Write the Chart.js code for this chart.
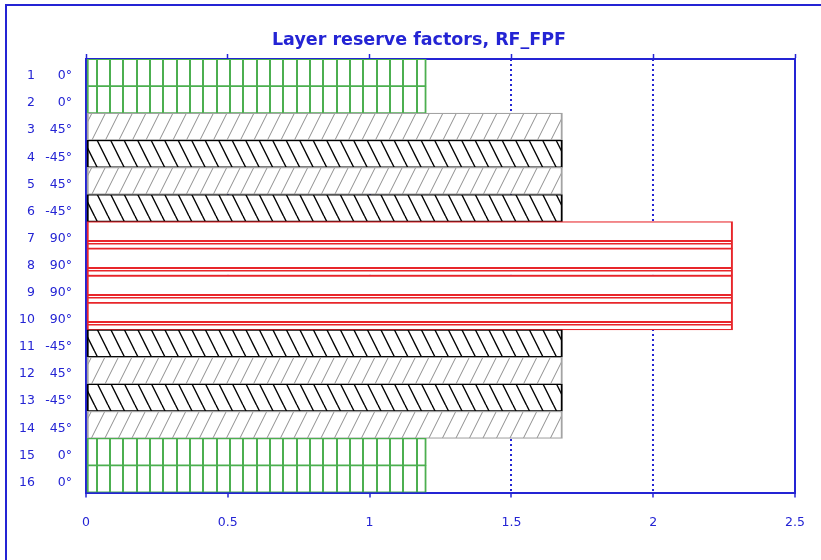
<!DOCTYPE html>
<html>
<head>
<meta charset="utf-8">
<script src="https://cdn.jsdelivr.net/npm/chart.js@4/dist/chart.umd.min.js"></script>
<style>
  html, body { margin: 0; padding: 0; background: #fff; }
  #wrap { width: 821px; height: 560px; }
</style>
</head>
<body>
<div id="wrap"><canvas id="rf" width="821" height="560"></canvas></div>
<script>
// Laminate layers (top to bottom), ply angles and first-ply-failure reserve factors
const chartTitle = 'Layer reserve factors, RF_FPF';
const layers = [1, 2, 3, 4, 5, 6, 7, 8, 9, 10, 11, 12, 13, 14, 15, 16];
const angles = [0, 0, 45, -45, 45, -45, 90, 90, 90, 90, -45, 45, -45, 45, 0, 0];
const reserveFactors = [1.2, 1.2, 1.68, 1.68, 1.68, 1.68, 2.28, 2.28, 2.28, 2.28, 1.68, 1.68, 1.68, 1.68, 1.2, 1.2];
const xTicks = [0, 0.5, 1, 1.5, 2, 2.5];

const BLUE = '#2424d4';
const FONT = "'DejaVu Sans', Verdana, sans-serif";

// Small repeating tiles used as hatch fills for each ply orientation
function tile(w, h, paint) {
  const c = document.createElement('canvas');
  c.width = w; c.height = h;
  const g = c.getContext('2d');
  g.fillStyle = '#fff';
  g.fillRect(0, 0, w, h);
  paint(g);
  return g.createPattern(c, 'repeat');
}

const plyStyle = {
  '0': {
    fill: tile(40, 4, g => {
      g.fillStyle = '#4caf50';
      [2, 16, 29].forEach(x => g.fillRect(x, 0, 2, 4));
    }),
    line: '#4caf50'
  },
  '45': {
    fill: tile(27, 27, g => {
      g.strokeStyle = '#8e8e8e';
      g.lineWidth = 1;
      for (let k = -1; k <= 4; k++) {
        const c = k * 13.5;
        g.beginPath(); g.moveTo(c, 0); g.lineTo(c - 13.5, 27); g.stroke();
      }
    }),
    line: '#a3a3a3'
  },
  '-45': {
    fill: tile(27, 27, g => {
      g.strokeStyle = '#000';
      g.lineWidth = 1.4;
      for (let k = -2; k <= 3; k++) {
        const c = k * 13.5;
        g.beginPath(); g.moveTo(c, 0); g.lineTo(c + 13.5, 27); g.stroke();
      }
    }),
    line: '#000'
  },
  '90': {
    fill: tile(4, 27, g => {
      g.fillStyle = '#e8262b';
      g.fillRect(0, 24, 4, 2);
      g.fillRect(0, 0, 4, 1.5);
    }),
    line: '#e8262b'
  }
};

// Frame, title and two-column layer/angle labels
const decor = {
  id: 'decor',
  beforeDraw(chart) {
    const ctx = chart.ctx;
    ctx.save();
    ctx.fillStyle = '#fff';
    ctx.fillRect(0, 0, chart.width, chart.height);
    ctx.strokeStyle = BLUE;
    ctx.lineWidth = 2;
    ctx.beginPath();
    ctx.moveTo(6, chart.height);
    ctx.lineTo(6, 5);
    ctx.lineTo(chart.width, 5);
    ctx.stroke();
    ctx.restore();
  },
  afterDraw(chart) {
    const ctx = chart.ctx;
    const y = chart.scales.y;
    ctx.save();
    ctx.fillStyle = BLUE;
    ctx.font = 'bold 17.5px ' + FONT;
    ctx.textAlign = 'center';
    ctx.textBaseline = 'alphabetic';
    ctx.fillText(chartTitle, 419, 45);

    ctx.font = '12.5px ' + FONT;
    ctx.textAlign = 'right';
    ctx.textBaseline = 'middle';
    layers.forEach((n, i) => {
      const py = y.getPixelForValue(i) + 3.5;
      ctx.fillText(String(n), 35, py);
      ctx.fillText(angles[i] + '°', 72, py);
    });
    ctx.restore();
  }
};

new Chart(document.getElementById('rf'), {
  type: 'bar',
  data: {
    labels: layers.map(String),
    datasets: [{
      data: reserveFactors,
      backgroundColor: angles.map(a => plyStyle[a].fill),
      borderColor: angles.map(a => plyStyle[a].line),
      borderWidth: { left: 2, right: 2, top: 1.25, bottom: 1.25 },
      borderSkipped: false,
      barPercentage: 1,
      categoryPercentage: 1,
      xAxisID: 'x',
      yAxisID: 'y'
    }]
  },
  options: {
    indexAxis: 'y',
    responsive: false,
    devicePixelRatio: 1,
    animation: false,
    layout: { padding: 0 },
    plugins: { legend: { display: false }, tooltip: { enabled: false }, title: { display: false } },
    scales: {
      x: {
        type: 'linear', position: 'bottom', min: 0, max: 2.5,
        afterBuildTicks: s => { s.ticks = xTicks.map(v => ({ value: v })); },
        grid: { color: BLUE, lineWidth: 2, drawTicks: true, tickLength: 5, tickColor: BLUE, tickWidth: 1.5 },
        border: { color: BLUE, width: 2, dash: [2, 3] },
        ticks: { color: BLUE, font: { family: FONT, size: 12.5 }, padding: 18, maxRotation: 0, callback: v => String(v) },
        afterFit: s => { s.height = 67.5; s.paddingLeft = 0; s.paddingRight = 0; }
      },
      x2: {
        type: 'linear', position: 'top', display: true, min: 0, max: 2.5,
        afterBuildTicks: s => { s.ticks = xTicks.map(v => ({ value: v })); },
        grid: { drawOnChartArea: false, drawTicks: true, tickLength: 5, tickColor: BLUE, tickWidth: 1.5 },
        border: { color: BLUE, width: 2 },
        ticks: { display: false },
        afterFit: s => { s.height = 59; s.paddingLeft = 0; s.paddingRight = 0; }
      },
      y: {
        type: 'category', position: 'left',
        grid: { drawOnChartArea: false, drawTicks: false },
        border: { color: BLUE, width: 2 },
        ticks: { display: false },
        afterFit: s => { s.width = 86; }
      },
      yr: {
        type: 'linear', position: 'right', display: true, min: 0, max: 1,
        grid: { drawOnChartArea: false, drawTicks: false },
        border: { color: BLUE, width: 2 },
        ticks: { display: false },
        afterFit: s => { s.width = 26; }
      }
    }
  },
  plugins: [decor]
});
</script>
</body>
</html>
